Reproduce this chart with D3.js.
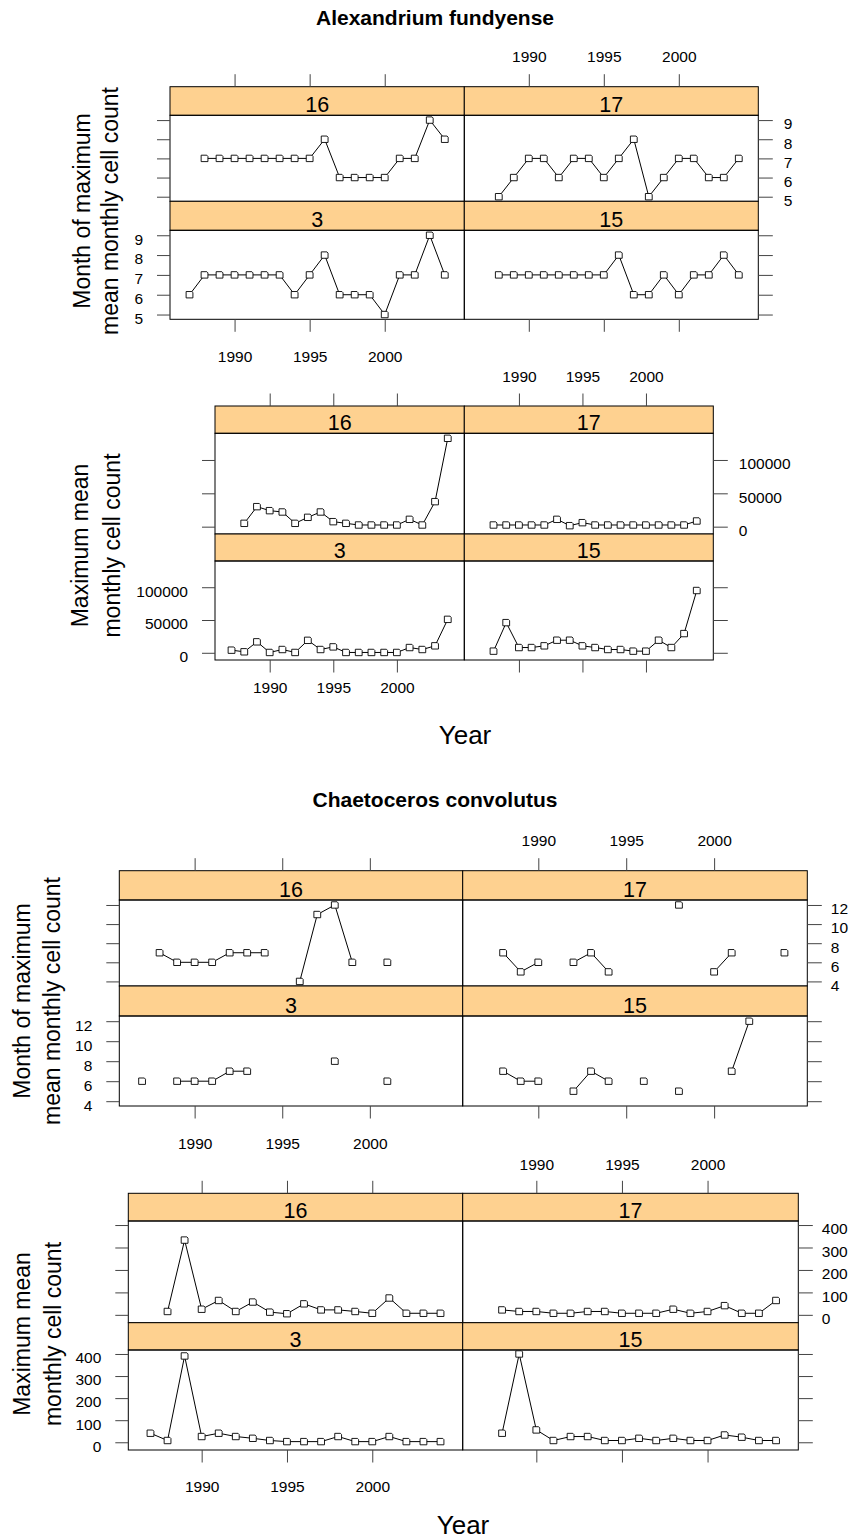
<!DOCTYPE html>
<html>
<head>
<meta charset="utf-8">
<script src="https://cdn.jsdelivr.net/npm/d3@7"></script>
<style>
  body { margin: 0; background: #fff; }
  svg { display: block; }
  text { font-family: "Liberation Sans", Arial, Helvetica, sans-serif; fill: #000; }
</style>
</head>
<body>
<svg id="chart" width="858" height="1540"></svg>
<script>
// ---- data -------------------------------------------------------------
const years = [1987, 1988, 1989, 1990, 1991, 1992, 1993, 1994, 1995,
               1996, 1997, 1998, 1999, 2000, 2001, 2002, 2003, 2004];
const yearTicks = [1990, 1995, 2000];
const panelNames = ["16", "17", "3", "15"];

// Alexandrium fundyense — month of maximum mean monthly cell count
const alexMonth16 = [null, 7, 7, 7, 7, 7, 7, 7, 7, 8, 6, 6, 6, 6, 7, 7, 9, 8];
const alexMonth17 = [null, 5, 6, 7, 7, 6, 7, 7, 6, 7, 8, 5, 6, 7, 7, 6, 6, 7];
const alexMonth3  = [6, 7, 7, 7, 7, 7, 7, 6, 7, 8, 6, 6, 6, 5, 7, 7, 9, 7];
const alexMonth15 = [null, 7, 7, 7, 7, 7, 7, 7, 7, 8, 6, 6, 7, 6, 7, 7, 8, 7];
const alexMonthTicks = [5, 6, 7, 8, 9];

// Alexandrium fundyense — maximum mean monthly cell count
const alexCount16 = [null, 5000, 30000, 24000, 22000, 5000, 14000, 22000, 7500, 5000,
                     2500, 2500, 2500, 2500, 11000, 2500, 37500, 132500];
const alexCount17 = [null, 2500, 2500, 2500, 2500, 2500, 11000, 1500, 6000, 2500,
                     2500, 2500, 2500, 2500, 2500, 2500, 2500, 8500];
const alexCount3  = [4000, 1500, 16700, 500, 5000, 500, 19000, 5000, 9000, 500,
                     500, 500, 500, 500, 8000, 5000, 10600, 51000];
const alexCount15 = [null, 2500, 46000, 8000, 8000, 10600, 19200, 19200, 10600, 8000,
                     5000, 5000, 2500, 2500, 19200, 8000, 29300, 95000];
const alexCountTicks = [0, 50000, 100000];

// Chaetoceros convolutus — month of maximum mean monthly cell count
const chaetMonth16 = [null, 7, 6, 6, 6, 7, 7, 7, null, 4, 11, 12, 6, null, 6, null, null, null];
const chaetMonth17 = [null, 7, 5, 6, null, 6, 7, 5, null, null, null, 12, null, 5, 7, null, null, 7];
const chaetMonth3  = [6, null, 6, 6, 6, 7, 7, null, null, null, null, 8, null, null, 6, null, null, null];
const chaetMonth15 = [null, 7, 6, 6, null, 5, 7, 6, null, 6, null, 5, null, null, 7, 12, null, null];
const chaetMonthTicks = [4, 6, 8, 10, 12];

// Chaetoceros convolutus — maximum mean monthly cell count
const chaetCount16 = [null, 15, 333, 25, 64, 15, 57, 12, 5, 49, 22, 22, 15, 7, 75, 7, 7, 7];
const chaetCount17 = [null, 22, 15, 15, 7, 7, 15, 15, 7, 7, 7, 25, 7, 15, 41, 7, 7, 64];
const chaetCount3  = [41, 8, 391, 26, 41, 26, 18, 8, 3, 3, 3, 26, 3, 3, 26, 3, 3, 3];
const chaetCount15 = [null, 41, 400, 56, 8, 26, 26, 8, 8, 18, 8, 18, 8, 8, 33, 23, 8, 8];
const chaetCountTicks = [0, 100, 200, 300, 400];

// ---- drawing ----------------------------------------------------------
const svg = d3.select("#chart");
const xDomain = [1985.7, 2005.3];
const STRIP_FILL = "#fed190";
const TICK_COL = "#444";
const TICK_FONT = 15.5;
let clipId = 0;

// small open square marker with a clipped corner
const markerPath = "M-3.4,-3.2 L2.3,-3.2 L3.4,-2 L3.4,3.2 L-3.4,3.2 Z";

function drawBlock(L, seriesList, yDomain, yTicks) {
  const g = svg.append("g");
  const cols = [[L.x0, L.xm], [L.xm, L.x1]];
  const rows = [L.r1, L.r2];
  const xs = cols.map(([a, b]) => d3.scaleLinear().domain(xDomain).range([a, b]));
  const ys = rows.map(r => d3.scaleLinear().domain(yDomain).range([r[2], r[1]]));

  const layout = [
    { name: panelNames[0], c: 0, r: 0, vals: seriesList[0] },
    { name: panelNames[1], c: 1, r: 0, vals: seriesList[1] },
    { name: panelNames[2], c: 0, r: 1, vals: seriesList[2] },
    { name: panelNames[3], c: 1, r: 1, vals: seriesList[3] }
  ];

  layout.forEach(p => {
    const x = xs[p.c], y = ys[p.r];
    const [sx0, sx1] = cols[p.c];
    const [st, pt, pb] = rows[p.r];

    // strip
    g.append("rect")
      .attr("x", sx0).attr("y", st).attr("width", sx1 - sx0).attr("height", pt - st)
      .attr("fill", STRIP_FILL).attr("stroke", "#000").attr("stroke-width", 1);
    g.append("text")
      .attr("x", (sx0 + sx1) / 2).attr("y", pt - 3.5)
      .attr("text-anchor", "middle").attr("font-size", 21.5)
      .text(p.name);

    // panel box
    g.append("rect")
      .attr("x", sx0).attr("y", pt).attr("width", sx1 - sx0).attr("height", pb - pt)
      .attr("fill", "none").attr("stroke", "#000").attr("stroke-width", 1);

    // data
    const id = "clip" + (clipId++);
    g.append("clipPath").attr("id", id)
      .append("rect").attr("x", sx0).attr("y", pt).attr("width", sx1 - sx0).attr("height", pb - pt);
    const pg = g.append("g").attr("clip-path", `url(#${id})`);
    const pts = years.map((yr, i) => ({ yr, v: p.vals[i] }));
    const line = d3.line()
      .defined(d => d.v != null)
      .x(d => x(d.yr)).y(d => y(d.v));
    pg.append("path").datum(pts)
      .attr("d", line).attr("fill", "none").attr("stroke", "#000").attr("stroke-width", 1);
    pg.selectAll("path.pt").data(pts.filter(d => d.v != null)).join("path")
      .attr("class", "pt")
      .attr("d", markerPath)
      .attr("transform", d => `translate(${x(d.yr)},${y(d.v)})`)
      .attr("fill", "#fff").attr("stroke", "#000").attr("stroke-width", 0.9);

    // x axis ticks: top on both columns (labels on right), bottom on both (labels on left)
    if (p.r === 0) {
      const ax = d3.axisTop(x).tickValues(yearTicks).tickSize(12.5)
        .tickPadding(L.topPad).tickFormat(p.c === 1 ? d3.format("d") : () => "");
      const a = g.append("g").attr("transform", `translate(0,${st})`).call(ax);
      styleAxis(a);
    } else {
      const ax = d3.axisBottom(x).tickValues(yearTicks).tickSize(12.5)
        .tickPadding(L.botPad).tickFormat(p.c === 0 ? d3.format("d") : () => "");
      const a = g.append("g").attr("transform", `translate(0,${pb})`).call(ax);
      styleAxis(a);
    }

    // y axis ticks: left on left column (labels bottom row), right on right column (labels top row)
    if (p.c === 0) {
      const ax = d3.axisLeft(y).tickValues(yTicks).tickSize(13).tickPadding(14)
        .tickFormat(p.r === 1 ? d3.format("d") : () => "");
      const a = g.append("g").attr("transform", `translate(${sx0},0)`).call(ax);
      styleAxis(a);
      a.selectAll("text").attr("dy", "0.57em");
    } else {
      const ax = d3.axisRight(y).tickValues(yTicks).tickSize(14.5).tickPadding(L.rightPad)
        .tickFormat(p.r === 0 ? d3.format("d") : () => "");
      const a = g.append("g").attr("transform", `translate(${sx1},0)`).call(ax);
      styleAxis(a);
      a.selectAll("text").attr("dy", "0.57em");
    }
  });

  // y axis title (two lines)
  L.ylab.forEach((t, i) => {
    g.append("text")
      .attr("transform", `translate(${L.ylabX[i]},${L.ylabY}) rotate(-90)`)
      .attr("text-anchor", "middle").attr("dy", "0.35em")
      .attr("font-size", 23)
      .text(t);
  });

  if (L.title) {
    g.append("text")
      .attr("x", L.title.x).attr("y", L.title.y)
      .attr("text-anchor", "middle").attr("dy", "0.35em")
      .attr("font-size", 21).attr("font-weight", "bold")
      .text(L.title.text);
  }
  if (L.xlab) {
    g.append("text")
      .attr("x", L.xlab.x).attr("y", L.xlab.y)
      .attr("text-anchor", "middle").attr("dy", "0.35em")
      .attr("font-size", 26)
      .text("Year");
  }
}

function styleAxis(a) {
  a.select(".domain").remove();
  a.selectAll(".tick line").attr("stroke", TICK_COL).attr("stroke-width", 1);
  a.selectAll("text")
    .attr("font-size", TICK_FONT)
    .attr("font-family", '"Liberation Sans", Arial, Helvetica, sans-serif')
    .attr("fill", "#000");
}

// block placement
const monthLab = ["Month of maximum", "mean monthly cell count"];
const countLab = ["Maximum mean", "monthly cell count"];

drawBlock({
  x0: 170, xm: 464.3, x1: 758.3,
  r1: [86.7, 115.3, 201.3], r2: [201.3, 230.3, 319.3],
  topPad: 12.5, botPad: 19.5, rightPad: 11,
  ylab: monthLab, ylabX: [81.7, 110], ylabY: 211,
  title: { text: "Alexandrium fundyense", x: 435, y: 18 }
}, [alexMonth16, alexMonth17, alexMonth3, alexMonth15], [4.76, 9.25], alexMonthTicks);

drawBlock({
  x0: 215, xm: 464.3, x1: 713.3,
  r1: [406, 433.3, 534], r2: [534, 561, 660],
  topPad: 12, botPad: 9, rightPad: 11,
  ylab: countLab, ylabX: [80, 111.7], ylabY: 545.5,
  xlab: { x: 465, y: 735 }
}, [alexCount16, alexCount17, alexCount3, alexCount15], [-11000, 140000], alexCountTicks);

drawBlock({
  x0: 119.3, xm: 462.7, x1: 807.3,
  r1: [870.7, 900, 986], r2: [986, 1016, 1106],
  topPad: 12, botPad: 19, rightPad: 9,
  ylab: monthLab, ylabX: [21.7, 51.7], ylabY: 1001,
  title: { text: "Chaetoceros convolutus", x: 435, y: 800 }
}, [chaetMonth16, chaetMonth17, chaetMonth3, chaetMonth15], [3.52, 12.52], chaetMonthTicks);

drawBlock({
  x0: 128.3, xm: 462.7, x1: 798.3,
  r1: [1193.3, 1221, 1322.7], r2: [1322.7, 1350, 1450],
  topPad: 11, botPad: 18.5, rightPad: 9,
  ylab: countLab, ylabX: [21.7, 53.3], ylabY: 1334,
  xlab: { x: 463, y: 1525 }
}, [chaetCount16, chaetCount17, chaetCount3, chaetCount15], [-35, 418], chaetCountTicks);
</script>
</body>
</html>
